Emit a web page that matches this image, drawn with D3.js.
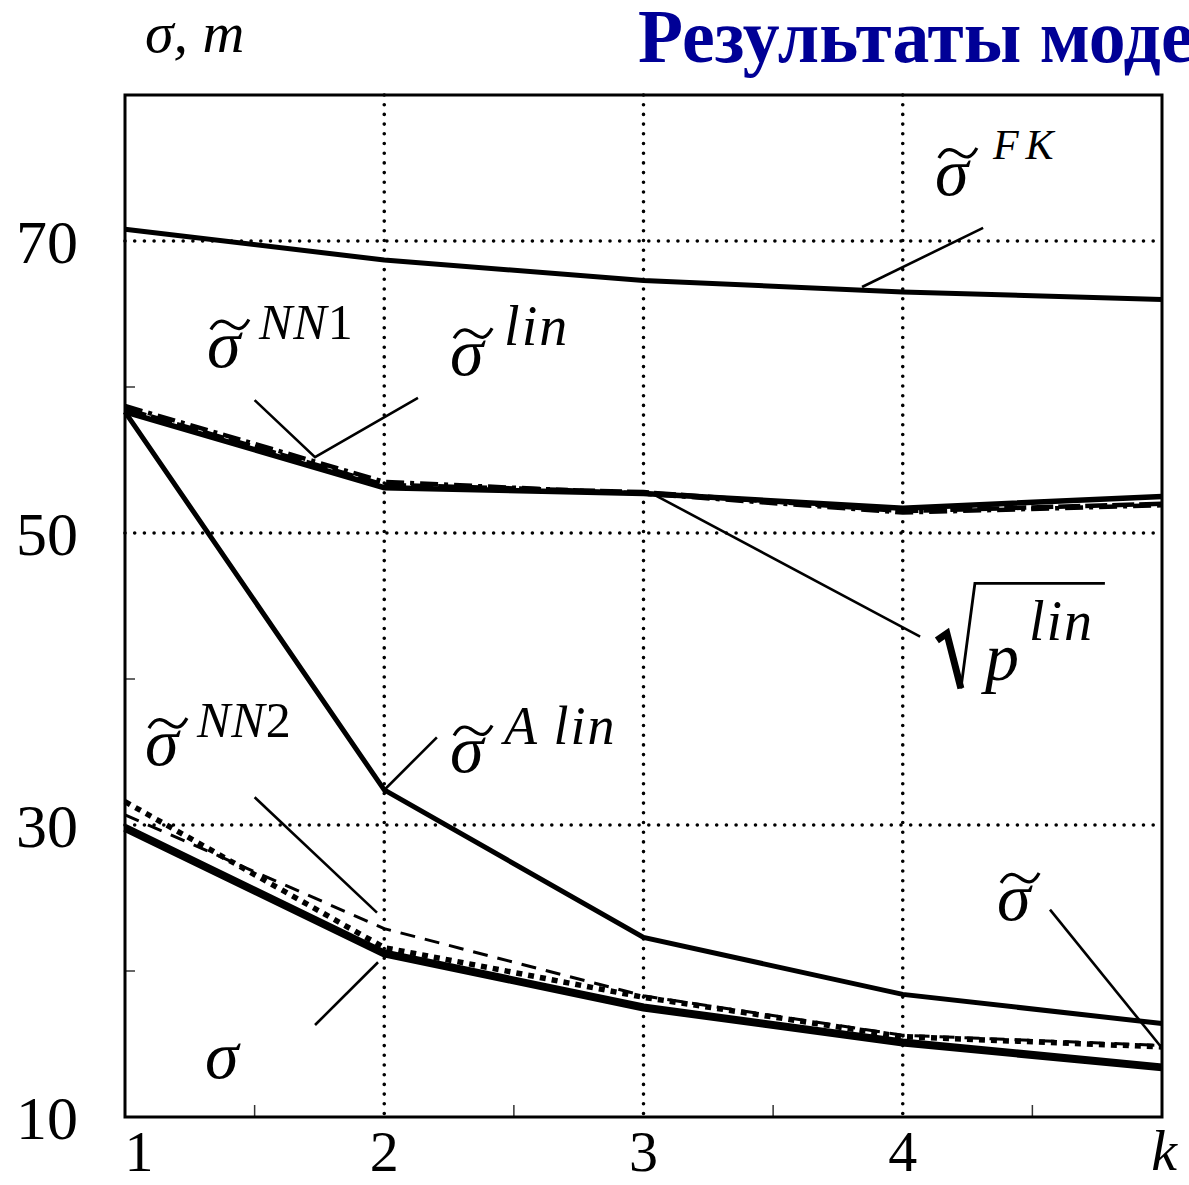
<!DOCTYPE html>
<html>
<head>
<meta charset="utf-8">
<script src="https://cdn.jsdelivr.net/npm/d3@7"></script>
<style>
  body { margin: 0; background: #fff; overflow: hidden; }
  svg { display: block; }
  text { font-family: "Liberation Serif", "Times New Roman", serif; }
</style>
</head>
<body>
<svg id="chart"></svg>
<script>
// number of model components k
const K = [1, 2, 3, 4, 5];

// sigma values, m
const sigmaFK   = [70.8, 68.7, 67.3, 66.5, 66.0];
const sqrtPLin  = [58.3, 53.1, 52.7, 51.7, 52.5];
const sigmaLin  = [58.5, 53.3, 52.8, 51.5, 52.0];
const sigmaNN1  = [58.7, 53.5, 52.7, 51.4, 51.9];
const sigmaALin = [58.3, 32.4, 22.3, 18.4, 16.4];
const sigmaNN2  = [30.7, 22.9, 18.3, 15.6, 14.9];
const sigmaEst  = [31.6, 21.6, 18.2, 15.5, 14.8];
const sigmaTrue = [29.8, 21.2, 17.5, 15.1, 13.4];

const yTicks = [10, 30, 50, 70];
const yMinor = [20, 40, 60];
const xTicks = [1, 2, 3, 4];
const xMinor = [1.5, 2.5, 3.5, 4.5];
const gridX = [2, 3, 4];
const gridY = [30, 50, 70];

const WIDTH = 1189;
const HEIGHT = 1185;
const PLOT = { LEFT: 125, RIGHT: 1162, TOP: 95, BOTTOM: 1117 };

let svg = d3.select("#chart")
  .attr("width", WIDTH)
  .attr("height", HEIGHT);

let xScale = d3.scaleLinear().domain([1, 5]).range([PLOT.LEFT, PLOT.RIGHT]);
let yScale = d3.scaleLinear().domain([10, 80]).range([PLOT.BOTTOM, PLOT.TOP]);

// title (cut at the right edge, as on the slide)
svg.append("text")
  .attr("transform", "translate(638,62) scale(0.97,1)")
  .attr("font-size", 76)
  .attr("font-weight", "bold")
  .attr("fill", "#000096")
  .text("Результаты моделирования");

// axis name
svg.append("text")
  .attr("x", 145).attr("y", 52)
  .attr("font-size", 58)
  .attr("font-style", "italic")
  .attr("xml:space", "preserve")
  .text("σ, m");

// dotted grid
svg.append("g").selectAll("line")
  .data(gridX)
  .enter().append("line")
    .attr("x1", d => xScale(d)).attr("x2", d => xScale(d))
    .attr("y1", PLOT.TOP).attr("y2", PLOT.BOTTOM)
    .attr("stroke", "#000").attr("stroke-width", 3.6)
    .attr("stroke-linecap", "round").attr("stroke-dasharray", "0,9.7");

svg.append("g").selectAll("line")
  .data(gridY)
  .enter().append("line")
    .attr("x1", PLOT.LEFT).attr("x2", PLOT.RIGHT)
    .attr("y1", d => yScale(d)).attr("y2", d => yScale(d))
    .attr("stroke", "#000").attr("stroke-width", 3.6)
    .attr("stroke-linecap", "round").attr("stroke-dasharray", "0,9.7");

// minor ticks
svg.append("g").selectAll("line")
  .data(xMinor)
  .enter().append("line")
    .attr("x1", d => xScale(d)).attr("x2", d => xScale(d))
    .attr("y1", PLOT.BOTTOM).attr("y2", PLOT.BOTTOM - 12)
    .attr("stroke", "#333").attr("stroke-width", 1.5);

svg.append("g").selectAll("line")
  .data(yMinor)
  .enter().append("line")
    .attr("x1", PLOT.LEFT).attr("x2", PLOT.LEFT + 10)
    .attr("y1", d => yScale(d)).attr("y2", d => yScale(d))
    .attr("stroke", "#333").attr("stroke-width", 1.5);

// series
const series = [
  { values: sigmaFK,   width: 5,   dash: null },
  { values: sigmaLin,  width: 4.5, dash: "22,5" },
  { values: sigmaNN1,  width: 4.5, dash: "18,6,4,6" },
  { values: sqrtPLin,  width: 5.5, dash: null },
  { values: sigmaALin, width: 5,   dash: null },
  { values: sigmaNN2,  width: 3,   dash: "15,10" },
  { values: sigmaEst,  width: 5.5, dash: "6,6" },
  { values: sigmaTrue, width: 8,   dash: null }
];

let line = d3.line()
  .x((d, i) => xScale(K[i]))
  .y(d => yScale(d));

svg.append("g").selectAll("path")
  .data(series)
  .enter().append("path")
    .attr("d", s => line(s.values))
    .attr("fill", "none")
    .attr("stroke", "#000")
    .attr("stroke-width", s => s.width)
    .attr("stroke-dasharray", s => s.dash);

// frame
svg.append("rect")
  .attr("x", PLOT.LEFT).attr("y", PLOT.TOP)
  .attr("width", PLOT.RIGHT - PLOT.LEFT)
  .attr("height", PLOT.BOTTOM - PLOT.TOP)
  .attr("fill", "none").attr("stroke", "#000").attr("stroke-width", 3);

// tick labels
svg.append("g").selectAll("text")
  .data(yTicks)
  .enter().append("text")
    .attr("x", 78).attr("y", d => yScale(d) + 22)
    .attr("text-anchor", "end")
    .attr("font-size", 62)
    .text(d => d);

svg.append("g").selectAll("text")
  .data(xTicks)
  .enter().append("text")
    .attr("x", (d, i) => i === 0 ? xScale(d) + 14 : xScale(d))
    .attr("y", 1171)
    .attr("text-anchor", "middle")
    .attr("font-size", 58)
    .text(d => d);

svg.append("text")
  .attr("x", xScale(5) + 2).attr("y", 1170)
  .attr("text-anchor", "middle")
  .attr("font-size", 58)
  .attr("font-style", "italic")
  .text("k");

// leader lines, given in data coordinates
const leaders = [
  [[3.843, 66.85], [4.31, 70.9]],
  [[1.50, 59.1], [1.733, 55.2], [2.13, 59.25]],
  [[3.044, 52.6], [4.067, 42.9]],
  [[1.50, 31.9], [1.972, 24.0]],
  [[2.0, 32.4], [2.203, 36.0]],
  [[4.568, 24.2], [4.992, 14.9]],
  [[1.733, 16.3], [1.976, 20.6]]
];

svg.append("g").selectAll("path")
  .data(leaders)
  .enter().append("path")
    .attr("d", d3.line().x(d => xScale(d[0])).y(d => yScale(d[1])))
    .attr("fill", "none")
    .attr("stroke", "#000")
    .attr("stroke-width", 2.6);

// labels: sigma with tilde and superscript (italic letters, upright digits)
const labels = [
  { k: 4.124, v: 73.15, sup: "FK",    digit: "",  supSize: 42, supX: 58, supY: -36, spacing: 7 },
  { k: 1.316, v: 61.4,  sup: "NN",    digit: "1", supSize: 50, supX: 52, supY: -28, spacing: 1 },
  { k: 2.254, v: 60.8,  sup: "lin",   digit: "",  supSize: 56, supX: 54, supY: -30, spacing: 2 },
  { k: 1.077, v: 34.1,  sup: "NN",    digit: "2", supSize: 50, supX: 52, supY: -28, spacing: 1 },
  { k: 2.254, v: 33.6,  sup: "A lin", digit: "",  supSize: 54, supX: 54, supY: -28, spacing: 2 },
  { k: 4.364, v: 23.5,  sup: "",      digit: "",  supSize: 44, supX: 52, supY: -28, spacing: 0 }
];

labels.forEach(function(l) {
  let g = svg.append("g")
    .attr("transform", `translate(${xScale(l.k)},${yScale(l.v)})`);
  g.append("text")
    .attr("font-size", 68)
    .attr("font-style", "italic")
    .text("σ");
  g.append("path")
    .attr("d", "M4,-37 C9,-46 15,-48 23,-42 S36,-36 42,-47")
    .attr("fill", "none")
    .attr("stroke", "#000")
    .attr("stroke-width", 3.2);
  if (l.sup) {
    let t = g.append("text")
      .attr("x", l.supX).attr("y", l.supY)
      .attr("font-size", l.supSize)
      .attr("font-style", "italic")
      .attr("letter-spacing", l.spacing)
      .attr("xml:space", "preserve")
      .text(l.sup);
    t.append("tspan")
      .attr("font-style", "normal")
      .text(l.digit);
  }
});

// plain sigma at the bottom
svg.append("text")
  .attr("x", xScale(1.309)).attr("y", yScale(12.7))
  .attr("font-size", 68)
  .attr("font-style", "italic")
  .text("σ");

// square root of p^lin
let root = svg.append("g")
  .attr("transform", `translate(${xScale(4.124)},${yScale(39.9)})`);
root.append("path")
  .attr("d", "M2,-40 L12,-47 L26,8")
  .attr("fill", "none").attr("stroke", "#000").attr("stroke-width", 7)
  .attr("stroke-linejoin", "miter");
root.append("path")
  .attr("d", "M26,8 L40,-97 L170,-97")
  .attr("fill", "none").attr("stroke", "#000").attr("stroke-width", 2.8);
root.append("text")
  .attr("x", 50).attr("y", 0)
  .attr("font-size", 68)
  .attr("font-style", "italic")
  .text("p");
root.append("text")
  .attr("x", 94).attr("y", -40)
  .attr("font-size", 56)
  .attr("font-style", "italic")
  .attr("letter-spacing", 2)
  .text("lin");
</script>
</body>
</html>
